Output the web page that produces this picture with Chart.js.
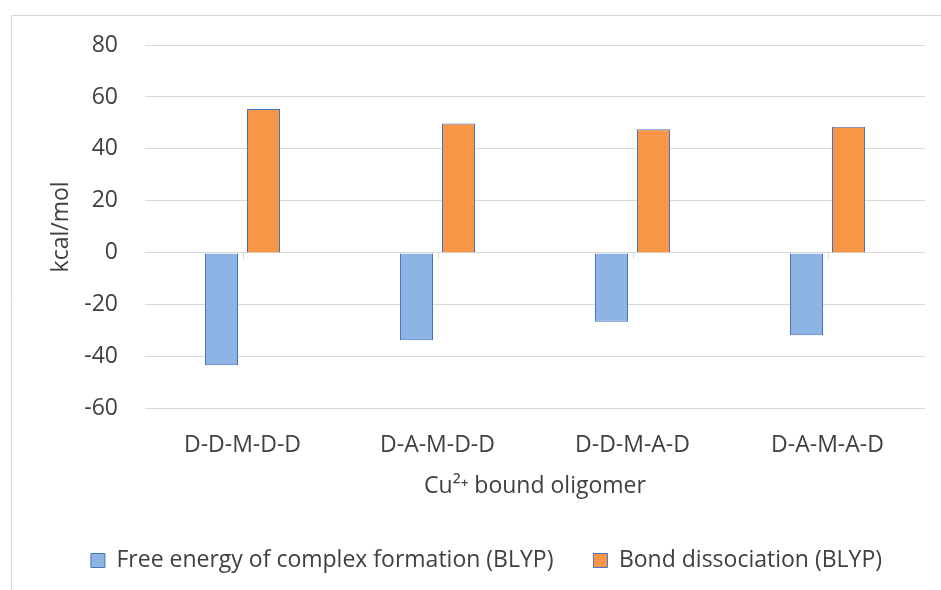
<!DOCTYPE html>
<html>
<head>
<meta charset="utf-8">
<script src="https://cdn.jsdelivr.net/npm/chart.js@4/dist/chart.umd.min.js"></script>
<style>
  html, body { margin: 0; padding: 0; background: #ffffff; overflow: hidden; }
  #wrap { position: relative; width: 941px; height: 590px; }
</style>
</head>
<body>
<div id="wrap"><canvas id="c" width="941" height="590"></canvas></div>
<script>
const categories = ["D-D-M-D-D", "D-A-M-D-D", "D-D-M-A-D", "D-A-M-A-D"];
const freeEnergy = [-43.2, -33.6, -26.5, -31.7];
const bondDissociation = [55.4, 49.8, 47.6, 48.5];
const seriesNames = ["Free energy of complex formation (BLYP)", "Bond dissociation (BLYP)"];
const yTitle = "kcal/mol";
const xTitle = "Cu\u00B2\u207A bound oligomer";
const yMin = -60, yMax = 80, yStep = 20;

const FONT = "'Open Sans', sans-serif";
const FS = 23;
const TEXT = "#404040";
const GRID = "#d9d9d9";

const frame = {
  id: 'frame',
  beforeDraw(chart) {
    const ctx = chart.ctx;
    ctx.save();
    ctx.fillStyle = '#ffffff';
    ctx.fillRect(0, 0, chart.width, chart.height);
    ctx.strokeStyle = GRID;
    ctx.lineWidth = 1;
    ctx.beginPath();
    ctx.moveTo(11.5, chart.height);
    ctx.lineTo(11.5, 15.5);
    ctx.lineTo(chart.width, 15.5);
    ctx.stroke();
    ctx.restore();
  },
  afterDraw(chart) {
    const ctx = chart.ctx;
    const xs = chart.scales.x, ys = chart.scales.y;
    const y0 = ys.getPixelForValue(0);
    ctx.save();
    ctx.strokeStyle = GRID;
    ctx.lineWidth = 1;
    ctx.beginPath();
    for (let i = 0; i < categories.length; i++) {
      const x = Math.round(xs.getPixelForValue(i)) + 0.5;
      ctx.moveTo(x, y0);
      ctx.lineTo(x, y0 + 6);
    }
    ctx.stroke();
    ctx.restore();
  }
};

new Chart(document.getElementById('c'), {
  type: 'bar',
  data: {
    labels: categories,
    datasets: [
      {
        label: seriesNames[0],
        data: freeEnergy,
        backgroundColor: '#8EB4E3',
        borderColor: '#4472C4',
        borderWidth: 1,
        categoryPercentage: 0.431,
        barPercentage: 0.786
      },
      {
        label: seriesNames[1],
        data: bondDissociation,
        backgroundColor: '#F79646',
        borderColor: '#4472C4',
        borderWidth: 1,
        categoryPercentage: 0.431,
        barPercentage: 0.786
      }
    ]
  },
  options: {
    responsive: false,
    animation: false,
    devicePixelRatio: 1,
    layout: { padding: { left: 48, right: 16, top: 45, bottom: 8 } },
    plugins: {
      tooltip: { enabled: false },
      legend: {
        position: 'bottom',
        labels: {
          font: { family: FONT, size: FS },
          color: TEXT,
          boxWidth: 14,
          boxHeight: 14,
          padding: 40
        }
      }
    },
    scales: {
      x: {
        grid: { display: false, drawTicks: false },
        border: { display: false },
        ticks: { color: TEXT, font: { family: FONT, size: FS }, padding: 23, maxRotation: 0 },
        title: {
          display: true, text: xTitle, color: TEXT,
          font: { family: FONT, size: FS },
          padding: { top: -10, bottom: 9 }
        }
      },
      y: {
        min: yMin, max: yMax,
        afterFit(scale) { scale.width = 97; },
        grid: { color: GRID, lineWidth: 1, drawTicks: false },
        border: { display: false },
        ticks: { stepSize: yStep, color: TEXT, font: { family: FONT, size: FS }, padding: 27 },
        title: {
          display: true, text: yTitle, color: TEXT,
          font: { family: FONT, size: FS },
          padding: { top: 0, bottom: 0 }
        }
      }
    }
  },
  plugins: [frame]
});
</script>
</body>
</html>
